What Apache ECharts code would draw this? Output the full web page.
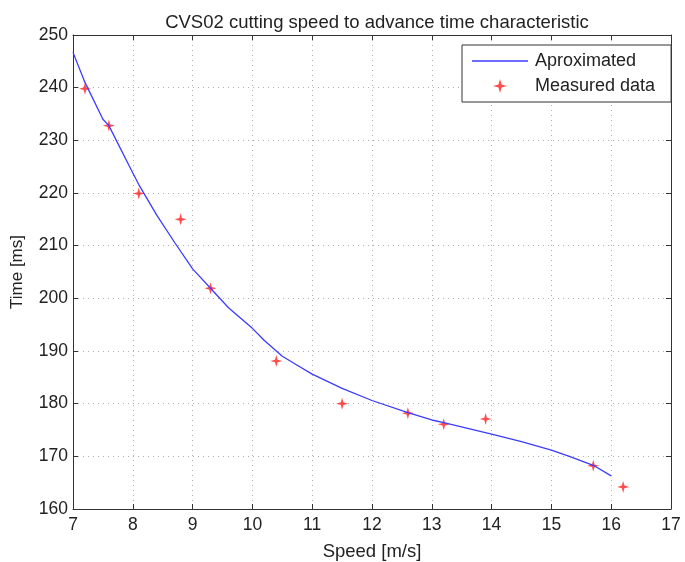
<!DOCTYPE html>
<html>
<head>
<meta charset="utf-8">
<script src="https://cdn.jsdelivr.net/npm/echarts@6/dist/echarts.min.js"></script>
<style>html,body{margin:0;padding:0;background:#fff;}#c{width:685px;height:562px;}</style>
</head>
<body>
<div id="c"></div>
<script>
const titleText = 'CVS02 cutting speed to advance time characteristic';
const xName = 'Speed [m/s]';
const yName = 'Time [ms]';
const seriesNames = ['Aproximated', 'Measured data'];
const xTicks = [7, 8, 9, 10, 11, 12, 13, 14, 15, 16, 17];
const yTicks = [160, 170, 180, 190, 200, 210, 220, 230, 240, 250];
const measuredSpeed = [7.2, 7.6, 8.1, 8.8, 9.3, 10.4, 11.5, 12.6, 13.2, 13.9, 15.7, 16.2];
const measuredTime = [239.8, 232.8, 219.9, 215.0, 201.9, 188.1, 180.0, 178.2, 176.1, 177.1, 168.2, 164.2];
const approxSpeed = [7.0, 7.2, 7.5, 7.6, 8.0, 8.1, 8.4, 8.7, 9.0, 9.35, 9.6, 10.0, 10.2, 10.5, 10.75, 11.0, 11.5, 12.0, 12.6, 13.0, 13.2, 13.6, 14.0, 14.5, 15.0, 15.3, 15.7, 16.0];
const approxTime = [246.7, 241.0, 234.0, 232.8, 223.8, 221.6, 215.8, 210.6, 205.6, 201.3, 198.2, 194.3, 192.0, 189.0, 187.3, 185.6, 182.9, 180.6, 178.3, 176.9, 176.4, 175.3, 174.2, 172.8, 171.2, 170.0, 168.3, 166.3];

const font = 'Liberation Sans, Arial, sans-serif';
const chart = echarts.init(document.getElementById('c'), null, {renderer: 'canvas'});
const star = 'path://M0,-6 L1.3,-1.3 L6,0 L1.3,1.3 L0,6 L-1.3,1.3 L-6,0 L-1.3,-1.3 Z';

const xMin = xTicks[0], xMax = xTicks[xTicks.length - 1], xInt = xTicks[1] - xTicks[0];
const yMin = yTicks[0], yMax = yTicks[yTicks.length - 1], yInt = yTicks[1] - yTicks[0];

function axisBase(isX, pos, showLabel) {
  return {
    type: 'value', position: pos,
    min: isX ? xMin : yMin, max: isX ? xMax : yMax, interval: isX ? xInt : yInt,
    axisLine: {show: true, onZero: false, lineStyle: {color: '#333', width: 1}},
    axisTick: {show: true, inside: true, length: 5, lineStyle: {color: '#333'}},
    axisLabel: {show: showLabel, color: '#222', fontSize: 17.5, fontFamily: font, margin: isX ? 7 : 5},
    splitLine: {show: showLabel, lineStyle: {color: '#b0b0b0', type: [1, 4], width: 1}}
  };
}

const x0 = axisBase(true, 'bottom', true);
x0.name = xName; x0.nameLocation = 'middle'; x0.nameGap = 33;
x0.nameTextStyle = {color: '#222', fontSize: 18.5, fontFamily: font};
const y0 = axisBase(false, 'left', true);
y0.name = yName; y0.nameLocation = 'middle'; y0.nameGap = 47;
y0.nameTextStyle = {color: '#222', fontSize: 17, fontFamily: font};
const x1 = axisBase(true, 'top', false);
const y1 = axisBase(false, 'right', false);

chart.setOption({
  animation: false,
  backgroundColor: '#fff',
  title: {
    text: titleText, left: 372, top: 8, textAlign: 'center',
    textStyle: {color: '#222', fontSize: 18.5, fontWeight: 'normal', fontFamily: font}
  },
  grid: {left: 73, right: 14, top: 35, bottom: 53, containLabel: false, outerBoundsMode: 'none'},
  legend: {
    orient: 'vertical', left: 462, top: 45,
    backgroundColor: '#fff', borderColor: '#333', borderWidth: 1,
    padding: [7, 16, 7, 10], itemGap: 7, itemWidth: 56, itemHeight: 14,
    textStyle: {color: '#222', fontSize: 18, fontFamily: font, padding: [0, 0, 0, 2]},
    data: [
      {name: seriesNames[0], icon: 'path://M0,0 L56,0 L56,1.3 L0,1.3 Z'},
      {name: seriesNames[1]}
    ]
  },
  xAxis: [x0, x1],
  yAxis: [y0, y1],
  series: [
    {
      name: seriesNames[0], type: 'line', xAxisIndex: 0, yAxisIndex: 0,
      data: approxSpeed.map((x, i) => [x, approxTime[i]]),
      showSymbol: false, smooth: false,
      lineStyle: {color: '#3c3cff', width: 1.3},
      itemStyle: {color: '#3c3cff'}
    },
    {
      name: seriesNames[1], type: 'scatter', xAxisIndex: 0, yAxisIndex: 0,
      data: measuredSpeed.map((x, i) => [x, measuredTime[i]]),
      symbol: star, symbolSize: 12,
      itemStyle: {color: '#ff2020'}
    }
  ]
});
</script>
</body>
</html>
